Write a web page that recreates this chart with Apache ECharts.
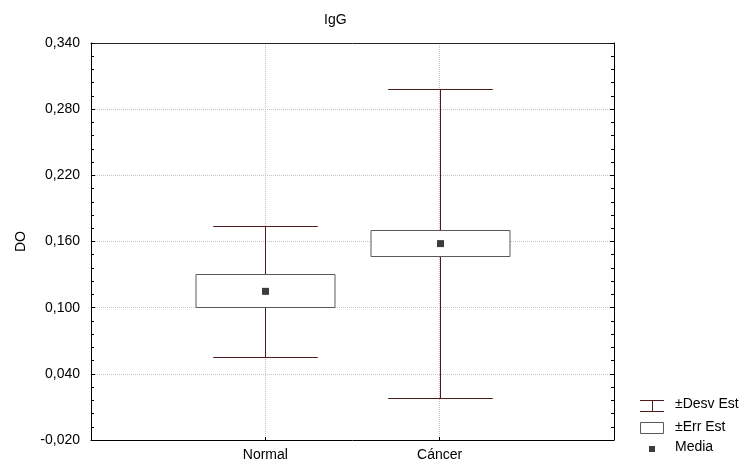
<!DOCTYPE html>
<html>
<head>
<meta charset="utf-8">
<script src="https://cdn.jsdelivr.net/npm/echarts@6/dist/echarts.min.js"></script>
<style>
html,body{margin:0;padding:0;background:#fff;}
#main{width:747px;height:467px;}
</style>
</head>
<body>
<div id="main"></div>
<script>
// ---- data ----
var categories = ['Normal', 'Cáncer'];
var means = [0.1148, 0.1581];
var seLow = [0.1003, 0.1464];
var seHigh = [0.1303, 0.1700];
var sdLow = [0.0557, 0.0182];
var sdHigh = [0.1739, 0.2979];
var yTicks = [-0.02, 0.34, 0.06]; // min, max, interval

var FONT = '"Liberation Sans", Arial, sans-serif';
var FS = 14;
var WHISK = '#4e1c1c';
var BOXC = '#5a5a5a';
var MEANC = '#3c3c3c';

var seriesData = categories.map(function (c, i) {
  return [i + 1, means[i], seLow[i], seHigh[i], sdLow[i], sdHigh[i]];
});

function renderItem(params, api) {
  var x = api.value(0);
  var pMean = api.coord([x, api.value(1)]);
  var pSeL = api.coord([x, api.value(2)]);
  var pSeH = api.coord([x, api.value(3)]);
  var pSdL = api.coord([x, api.value(4)]);
  var pSdH = api.coord([x, api.value(5)]);
  var boxW = api.size([0.8, 0])[0];
  var capW = api.size([0.6, 0])[0];
  var cx = Math.round(pMean[0]) + 0.5;
  var children = [
    { type: 'line', shape: { x1: cx, y1: Math.round(pSdL[1]) + 0.5, x2: cx, y2: Math.round(pSdH[1]) + 0.5 },
      style: { stroke: WHISK, lineWidth: 1 } },
    { type: 'line', shape: { x1: cx - capW / 2, y1: Math.round(pSdH[1]) + 0.5, x2: cx + capW / 2, y2: Math.round(pSdH[1]) + 0.5 },
      style: { stroke: WHISK, lineWidth: 1 } },
    { type: 'line', shape: { x1: cx - capW / 2, y1: Math.round(pSdL[1]) + 0.5, x2: cx + capW / 2, y2: Math.round(pSdL[1]) + 0.5 },
      style: { stroke: WHISK, lineWidth: 1 } },
    { type: 'rect', shape: { x: Math.round(cx - boxW / 2), y: Math.round(pSeH[1]) + 0.5, width: Math.round(boxW), height: Math.round(pSeL[1] - pSeH[1]) },
      style: { fill: '#fff', stroke: BOXC, lineWidth: 1 } },
    { type: 'rect', shape: { x: cx - 3.5, y: pMean[1] - 3.5, width: 7, height: 7 },
      style: { fill: MEANC } }
  ];
  return { type: 'group', children: children };
}

var chart = echarts.init(document.getElementById('main'), null, { renderer: 'canvas' });

var yAxisBase = {
  type: 'value',
  min: yTicks[0], max: yTicks[1], interval: yTicks[2],
  axisLine: { show: true, onZero: false, lineStyle: { color: '#000', width: 1 } },
  axisTick: { show: true, inside: true, length: 4, lineStyle: { color: '#000' } },
  minorTick: { show: true, splitNumber: 5, length: 3, lineStyle: { color: '#000' } },
  splitLine: { show: false }
};

var option = {
  backgroundColor: '#fff',
  animation: false,
  title: {
    text: 'IgG', left: 319, top: 8,
    textStyle: { fontFamily: FONT, fontSize: FS, fontWeight: 'normal', color: '#000' }
  },
  grid: { left: 91, right: 133, top: 43, bottom: 27, containLabel: false },
  xAxis: [{
    type: 'value', min: 0, max: 3, interval: 1,
    axisLine: { show: true, onZero: false, lineStyle: { color: '#000', width: 1 } },
    axisTick: { show: true, inside: true, length: 3, lineStyle: { color: '#000' } },
    axisLabel: {
      fontFamily: FONT, fontSize: FS, color: '#000', margin: 8,
      formatter: function (v) { var k = Math.round(v); return (k >= 1 && k <= categories.length) ? categories[k - 1] : ''; }
    },
    splitLine: { show: true, lineStyle: { color: '#c4c4c4', type: 'dotted', width: 1 } }
  }, {
    type: 'value', min: 0, max: 3, position: 'top',
    axisLine: { show: true, onZero: false, lineStyle: { color: '#222', width: 1 } },
    axisTick: { show: false }, axisLabel: { show: false }, splitLine: { show: false }
  }],
  yAxis: [Object.assign({}, yAxisBase, {
    position: 'left',
    name: 'DO', nameLocation: 'middle', nameGap: 63, nameRotate: 90,
    nameTextStyle: { fontFamily: FONT, fontSize: FS, color: '#000' },
    axisLabel: {
      fontFamily: FONT, fontSize: FS, color: '#000', margin: 11,
      formatter: function (v) { return v.toFixed(3).replace('.', ','); }
    },
    splitLine: { show: true, lineStyle: { color: '#c4c4c4', type: 'dotted', width: 1 } }
  }), Object.assign({}, yAxisBase, {
    position: 'right',
    axisLabel: { show: false }
  })],
  series: [{
    type: 'custom',
    renderItem: renderItem,
    encode: { x: 0, y: [1, 2, 3, 4, 5] },
    data: seriesData,
    clip: false,
    silent: true
  }],
  graphic: [
    // legend: ±Desv Est
    { type: 'line', shape: { x1: 640, y1: 400.5, x2: 664, y2: 400.5 }, style: { stroke: WHISK, lineWidth: 1 } },
    { type: 'line', shape: { x1: 640, y1: 411.5, x2: 664, y2: 411.5 }, style: { stroke: WHISK, lineWidth: 1 } },
    { type: 'line', shape: { x1: 652.5, y1: 400.5, x2: 652.5, y2: 411.5 }, style: { stroke: WHISK, lineWidth: 1 } },
    { type: 'text', left: 675, top: 397, style: { text: '±Desv Est', font: FS + 'px ' + FONT, fill: '#000' } },
    // ±Err Est
    { type: 'rect', shape: { x: 640.5, y: 422.5, width: 23, height: 11 }, style: { fill: '#fff', stroke: BOXC, lineWidth: 1 } },
    { type: 'text', left: 675, top: 420, style: { text: '±Err Est', font: FS + 'px ' + FONT, fill: '#000' } },
    // Media
    { type: 'rect', shape: { x: 649, y: 446, width: 6, height: 6 }, style: { fill: MEANC } },
    { type: 'text', left: 675, top: 440, style: { text: 'Media', font: FS + 'px ' + FONT, fill: '#000' } }
  ]
};

chart.setOption(option);
</script>
</body>
</html>
